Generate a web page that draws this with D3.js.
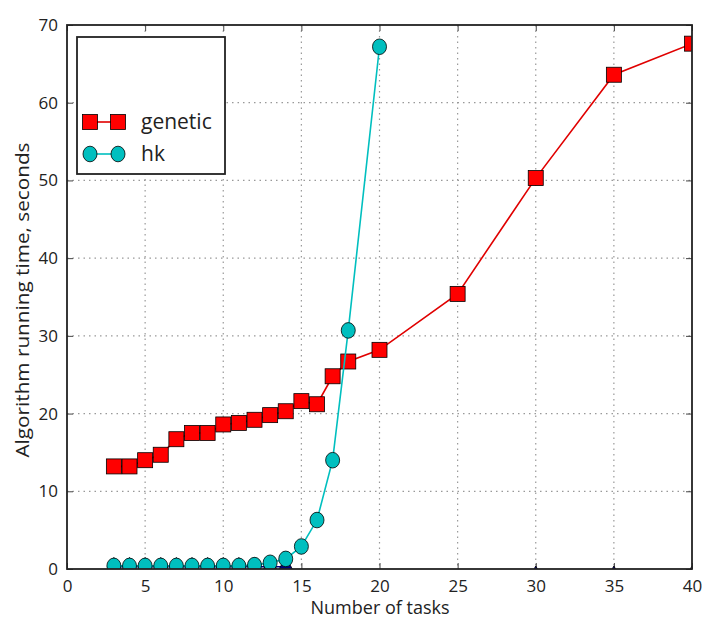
<!DOCTYPE html>
<html>
<head>
<meta charset="utf-8">
<script src="https://cdn.jsdelivr.net/npm/d3@7"></script>
<style>
  body { margin: 0; background: #fff; }
  svg text { font-family: "Open Sans", "DejaVu Sans", sans-serif; fill: #222; }
</style>
</head>
<body>
<div id="chart"></div>
<script>
// data
const geneticX = [3, 4, 5, 6, 7, 8, 9, 10, 11, 12, 13, 14, 15, 16, 17, 18, 20, 25, 30, 35, 40];
const geneticY = [13.2, 13.2, 14.0, 14.7, 16.7, 17.5, 17.5, 18.6, 18.8, 19.2, 19.8, 20.3, 21.6, 21.2, 24.8, 26.7, 28.2, 35.4, 50.3, 63.6, 67.6];
const hkX = [3, 4, 5, 6, 7, 8, 9, 10, 11, 12, 13, 14, 15, 16, 17, 18, 20];
const hkY = [0.4, 0.4, 0.4, 0.4, 0.4, 0.4, 0.4, 0.4, 0.4, 0.5, 0.8, 1.3, 2.9, 6.3, 14.0, 30.7, 67.2];
// third series hidden at the bottom (navy triangles, not in legend)
const hiddenX = [3, 4, 5, 6, 7, 8, 9, 10, 11, 12, 13, 14, 30, 35, 40];
const hiddenY = [0.3, 0.3, 0.3, 0.3, 0.3, 0.3, 0.3, 0.3, 0.3, 0.3, 0.3, 0.3, -0.8, -0.8, -0.8];
const xTicks = [0, 5, 10, 15, 20, 25, 30, 35, 40];
const yTicks = [0, 10, 20, 30, 40, 50, 60, 70];
const legendLabels = ["genetic", "hk"];

const width = 702, height = 621;
const margin = { left: 67, top: 25, right: 10, bottom: 52 };
const plotW = width - margin.left - margin.right;
const plotH = height - margin.top - margin.bottom;

const svg = d3.select("#chart").append("svg")
    .attr("width", width)
    .attr("height", height);

const x = d3.scaleLinear().domain([0, 40]).range([0, plotW]);
const y = d3.scaleLinear().domain([0, 70]).range([plotH, 0]);

const g = svg.append("g").attr("transform", `translate(${margin.left},${margin.top})`);

svg.append("defs").append("clipPath").attr("id", "clip")
  .append("rect").attr("width", plotW).attr("height", plotH);

// grid
g.append("g")
  .selectAll("line").data(xTicks.slice(1, -1)).join("line")
    .attr("x1", d => x(d)).attr("x2", d => x(d))
    .attr("y1", 0).attr("y2", plotH)
    .attr("stroke", "#999").attr("stroke-width", 1.2).attr("stroke-dasharray", "1.5,4");
g.append("g")
  .selectAll("line").data(yTicks.slice(1, -1)).join("line")
    .attr("y1", d => y(d)).attr("y2", d => y(d))
    .attr("x1", 0).attr("x2", plotW)
    .attr("stroke", "#999").attr("stroke-width", 1.2).attr("stroke-dasharray", "1.5,4");

// axes with inward ticks
g.append("g").attr("transform", `translate(0,${plotH})`)
  .call(d3.axisBottom(x).tickValues(xTicks).tickSize(-6).tickPadding(11));
g.append("g")
  .call(d3.axisLeft(y).tickValues(yTicks).tickSize(-6).tickPadding(9));
g.append("g").call(d3.axisTop(x).tickValues(xTicks).tickSize(-6).tickFormat(""));
g.append("g").attr("transform", `translate(${plotW},0)`)
  .call(d3.axisRight(y).tickValues(yTicks).tickSize(-6).tickFormat(""));

g.selectAll(".domain").remove();
g.selectAll(".tick line").attr("stroke", "#444");
g.selectAll(".tick text").style("font-size", "17px").attr("fill", "#222");

const series = g.append("g").attr("clip-path", "url(#clip)");

const line = d3.line().x(d => x(d[0])).y(d => y(d[1]));

// hidden navy series
const hiddenPts = hiddenX.map((v, i) => [v, hiddenY[i]]);
series.append("path").datum(hiddenPts.slice(0, 12))
  .attr("d", line).attr("fill", "none").attr("stroke", "#000080").attr("stroke-width", 1.5);
series.selectAll(".tri").data(hiddenPts).join("path")
  .attr("class", "tri")
  .attr("transform", d => `translate(${x(d[0])},${y(d[1])})`)
  .attr("d", d3.symbol(d3.symbolTriangle, 110)())
  .attr("fill", "#000080").attr("stroke", "#000").attr("stroke-width", 0.8);

// genetic
const genPts = geneticX.map((v, i) => [v, geneticY[i]]);
series.append("path").datum(genPts)
  .attr("d", line).attr("fill", "none").attr("stroke", "#e00000").attr("stroke-width", 1.6);
series.selectAll(".sq").data(genPts).join("rect")
  .attr("class", "sq")
  .attr("x", d => x(d[0]) - 7.5).attr("y", d => y(d[1]) - 7.5)
  .attr("width", 15).attr("height", 15)
  .attr("fill", "#ff0000").attr("stroke", "#000").attr("stroke-width", 0.8);

// hk
const hkPts = hkX.map((v, i) => [v, hkY[i]]);
series.append("path").datum(hkPts)
  .attr("d", line).attr("fill", "none").attr("stroke", "#00bfbf").attr("stroke-width", 1.6);
series.selectAll(".ci").data(hkPts).join("ellipse")
  .attr("class", "ci")
  .attr("cx", d => x(d[0])).attr("cy", d => y(d[1]))
  .attr("rx", 7).attr("ry", 7.8)
  .attr("fill", "#00bfbf").attr("stroke", "#000").attr("stroke-width", 0.8);

// frame
g.append("rect").attr("width", plotW).attr("height", plotH)
  .attr("fill", "none").attr("stroke", "#222").attr("stroke-width", 1.8);

// axis labels
svg.append("text")
  .attr("x", 380).attr("y", 614)
  .attr("text-anchor", "middle").style("font-size", "18px")
  .text("Number of tasks");
svg.append("text")
  .attr("transform", `translate(29,300) rotate(-90)`)
  .attr("text-anchor", "middle").style("font-size", "18px")
  .attr("textLength", 315).attr("lengthAdjust", "spacingAndGlyphs")
  .text("Algorithm running time, seconds");

// legend
const lg = svg.append("g");
lg.append("rect").attr("x", 77).attr("y", 37).attr("width", 148).attr("height", 137)
  .attr("fill", "#fff").attr("stroke", "#222").attr("stroke-width", 1.8);
const legendY = [122, 154];
const legendColors = ["#ff0000", "#00bfbf"];
legendLabels.forEach((lab, i) => {
  const ly = legendY[i];
  lg.append("line").attr("x1", 90).attr("x2", 118).attr("y1", ly).attr("y2", ly)
    .attr("stroke", i === 0 ? "#e00000" : "#00bfbf").attr("stroke-width", 1.6);
  [90, 118].forEach(mx => {
    if (i === 0) {
      lg.append("rect").attr("x", mx - 7.5).attr("y", ly - 7.5).attr("width", 15).attr("height", 15)
        .attr("fill", legendColors[i]).attr("stroke", "#000").attr("stroke-width", 0.8);
    } else {
      lg.append("ellipse").attr("cx", mx).attr("cy", ly).attr("rx", 7).attr("ry", 7.8)
        .attr("fill", legendColors[i]).attr("stroke", "#000").attr("stroke-width", 0.8);
    }
  });
  lg.append("text").attr("x", 141).attr("y", ly + 7).style("font-size", "21px").text(lab);
});
</script>
</body>
</html>
